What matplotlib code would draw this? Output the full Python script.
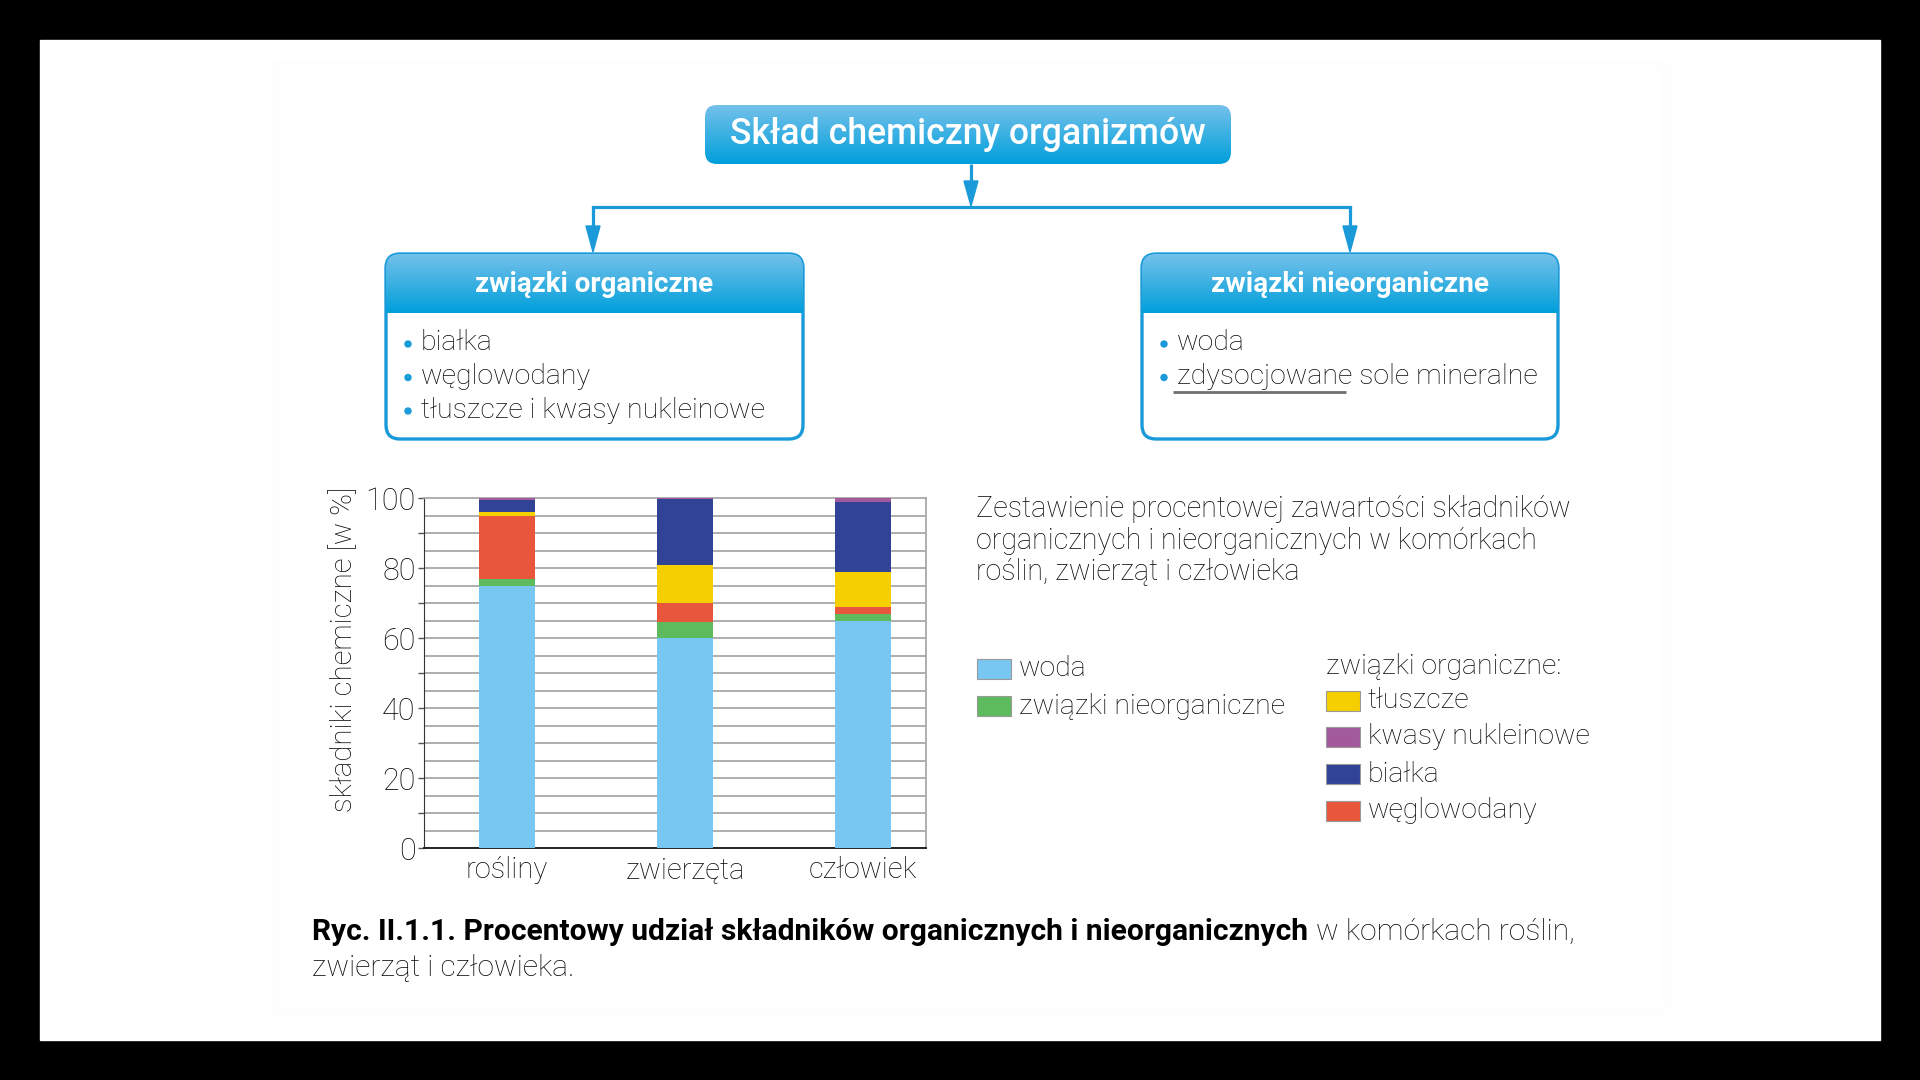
import numpy as np
import matplotlib
matplotlib.use('Agg')
import matplotlib.pyplot as plt
from matplotlib.patches import FancyBboxPatch, Rectangle, Polygon, Circle

# dane wykresu
kategorie = ['rośliny', 'zwierzęta', 'człowiek']
serie = ['woda', 'związki nieorganiczne', 'węglowodany', 'tłuszcze', 'białka', 'kwasy nukleinowe']
woda = [75, 60, 65]
nieorganiczne = [2, 4.5, 2]
weglowodany = [18, 5.5, 2]
tluszcze = [1, 11, 10]
bialka = [3.3, 18.6, 20]
kwasy = [0.7, 0.4, 1]
kolory = ['#78c6f2', '#5dba5d', '#e8573c', '#f6cf00', '#314397', '#a35a9d']
yticks = [0, 20, 40, 60, 80, 100]

organiczne_lista = ['białka', 'węglowodany', 'tłuszcze i kwasy nukleinowe']
nieorganiczne_lista = ['woda', 'zdysocjowane sole mineralne']

BLUE = '#1a9ad8'
TXT = '#0a0a0a'
FONT = 'Roboto'

fig = plt.figure(figsize=(19.2, 10.8), dpi=100)
fig.patch.set_facecolor('black')

bg = fig.add_axes([0, 0, 1, 1])
bg.set_xlim(0, 1920)
bg.set_ylim(1080, 0)
bg.axis('off')

r = fig.canvas.get_renderer()


def fit_text(ax, x, y, s, width, **kw):
    t = ax.text(x, y, s, **kw)
    w = t.get_window_extent(r).width
    t.set_fontsize(t.get_fontsize() * width / w)
    return t


def fit_size(s, width, **kw):
    t = bg.text(0, 0, s, **kw)
    w = t.get_window_extent(r).width
    fs = t.get_fontsize() * width / w
    t.remove()
    return fs


# tlo, karta z lekkim cieniem
bg.add_patch(Rectangle((40, 40), 1840, 1000, color='white', zorder=0))
for i in range(4):
    bg.add_patch(Rectangle((280 - i * 3, 70 - i * 3), 1380 + i * 6, 935 + i * 6,
                           facecolor='none', edgecolor='#000000', alpha=0.004, lw=3, zorder=1))
bg.add_patch(Rectangle((280, 70), 1380, 935, color='white', zorder=1))

grad = np.linspace(0, 1, 100).reshape(-1, 1)
cmap = matplotlib.colors.LinearSegmentedColormap.from_list('nb', ['#74c1ea', '#009fdb'])

# tytul
title_box = FancyBboxPatch((705, 105), 526, 59, boxstyle='round,pad=0,rounding_size=12',
                           facecolor='none', edgecolor='none', zorder=3)
bg.add_patch(title_box)
im = bg.imshow(grad, extent=(705, 1231, 164, 105), cmap=cmap, aspect='auto', zorder=3)
im.set_clip_path(title_box)
fit_text(bg, 968, 135, 'Skład chemiczny organizmów', 475, color='white', ha='center', va='center',
         fontsize=24, family=FONT, weight='medium', zorder=4)

body_fs = fit_size('tłuszcze i kwasy nukleinowe', 343, fontsize=19, family=FONT, weight='light')


def box(x0, x1, naglowek, wiersze, szer_nagl):
    outline = FancyBboxPatch((x0, 254), x1 - x0, 185, boxstyle='round,pad=0,rounding_size=14',
                             facecolor='white', edgecolor=BLUE, lw=2.4, zorder=3)
    bg.add_patch(outline)
    clip = FancyBboxPatch((x0, 254), x1 - x0, 185, boxstyle='round,pad=0,rounding_size=14',
                          facecolor='none', edgecolor='none', zorder=3)
    bg.add_patch(clip)
    im = bg.imshow(grad, extent=(x0, x1, 313, 254), cmap=cmap, aspect='auto', zorder=3)
    im.set_clip_path(clip)
    fit_text(bg, (x0 + x1) / 2, 285, naglowek, szer_nagl, color='white', ha='center', va='center',
             fontsize=19, family=FONT, weight='bold', zorder=4)
    for i, w in enumerate(wiersze):
        y = 343 + i * 33.5
        bg.add_patch(Circle((x0 + 22, y + 1), 3, color=BLUE, zorder=4))
        bg.text(x0 + 35, y, w, color=TXT, fontsize=body_fs, family=FONT, weight='light',
                ha='left', va='center', zorder=4)


box(386, 803, 'związki organiczne', organiczne_lista, 239)
box(1142, 1558, 'związki nieorganiczne', nieorganiczne_lista, 278)

# podkreslenie
bg.plot([1173, 1346], [392, 392], color='#707070', lw=2, zorder=4, solid_capstyle='butt')


# strzalki
def arrow_down(x, y0, y1, head=25, hw=7):
    bg.plot([x, x], [y0, y1 - head + 2], color=BLUE, lw=2.3, zorder=2, solid_capstyle='butt')
    bg.add_patch(Polygon([[x - hw, y1 - head], [x + hw, y1 - head], [x, y1]], color=BLUE, zorder=2))


arrow_down(971, 164, 206, head=25)
bg.plot([593, 1350], [207, 207], color=BLUE, lw=2.3, zorder=2)
arrow_down(593, 206, 252, head=26)
arrow_down(1350, 206, 252, head=26)

# wykres slupkowy
ax = fig.add_axes([424 / 1920, 1 - 848 / 1080, 502 / 1920, 350 / 1080])
ax.set_zorder(5)
x = np.arange(len(kategorie))
dane = [woda, nieorganiczne, weglowodany, tluszcze, bialka, kwasy]
bottom = np.zeros(len(kategorie))
for vals, c in zip(dane, kolory):
    ax.bar(x, vals, width=0.31, bottom=bottom, color=c, zorder=3)
    bottom += np.array(vals)

for yy in np.arange(5, 100, 5):
    ax.axhline(yy, color='#a8a8a8', lw=1.3, zorder=1)
ax.set_xlim(-0.466, 2.354)
ax.set_ylim(0, 100)
ax.set_yticks(yticks)
ax.set_yticks(np.arange(10, 100, 20), minor=True)
ax.set_xticks(x)
ax.set_xticklabels(kategorie)
ax.tick_params(axis='x', length=0, pad=6, labelsize=21, labelcolor=TXT)
ax.tick_params(axis='y', which='both', length=4, width=1, color='#555555', pad=2,
               labelsize=22, labelcolor=TXT)
for lab in ax.get_xticklabels() + ax.get_yticklabels():
    lab.set_family(FONT)
    lab.set_weight('light')
ax.spines['left'].set_color('#333333')
ax.spines['bottom'].set_color('#222222')
ax.spines['bottom'].set_linewidth(1.4)
ax.spines['top'].set_color('#a8a8a8')
ax.spines['right'].set_color('#a8a8a8')
ax.spines['top'].set_linewidth(1.3)
ax.spines['right'].set_linewidth(1.3)

# opis osi y
ylab = fit_text(bg, 344, 649, 'składniki chemiczne [w %]', 326, color=TXT, ha='center', va='center',
                fontsize=20, family=FONT, weight='light', zorder=4)
ylab.set_rotation(90)

# opis wykresu
opis = ['Zestawienie procentowej zawartości składników',
        'organicznych i nieorganicznych w komórkach',
        'roślin, zwierząt i człowieka']
t0 = fit_text(bg, 976, 509, opis[0], 593, color=TXT, ha='left', va='center',
              fontsize=19, family=FONT, weight='light', zorder=4)
for i, s in enumerate(opis[1:]):
    bg.text(976, 541 + i * 31.5, s, color=TXT, ha='left', va='center',
            fontsize=t0.get_fontsize(), family=FONT, weight='light', zorder=4)

# legenda
leg_fs = fit_size('związki nieorganiczne', 266, fontsize=19, family=FONT, weight='light')


def leg_item(xs, y, label, color):
    bg.add_patch(Rectangle((xs, y - 10), 34, 20, facecolor=color, edgecolor='#9a9a9a', lw=0.8, zorder=4))
    bg.text(xs + 42, y, label, color=TXT, ha='left', va='center', fontsize=leg_fs,
            family=FONT, weight='light', zorder=4)


leg_item(977, 669, serie[0], kolory[0])
leg_item(977, 706, serie[1], kolory[1])
bg.text(1326, 667, 'związki organiczne:', color=TXT, ha='left', va='center', fontsize=leg_fs,
        family=FONT, weight='light', zorder=4)
leg_item(1326, 701, serie[3], kolory[3])
leg_item(1326, 737, serie[5], kolory[5])
leg_item(1326, 774, serie[4], kolory[4])
leg_item(1326, 811, serie[2], kolory[2])

# podpis
b = fit_text(bg, 312, 932, 'Ryc. II.1.1. Procentowy udział składników organicznych i nieorganicznych',
             996, color='black', ha='left', va='center', fontsize=19, family=FONT, weight='bold', zorder=4)
bg.text(1316, 932, 'w komórkach roślin,', color=TXT, ha='left', va='center',
        fontsize=b.get_fontsize(), family=FONT, weight='light', zorder=4)
bg.text(312, 968, 'zwierząt i człowieka.', color=TXT, ha='left', va='center',
        fontsize=b.get_fontsize(), family=FONT, weight='light', zorder=4)

fig.savefig('out.png', dpi=100, facecolor=fig.get_facecolor())
